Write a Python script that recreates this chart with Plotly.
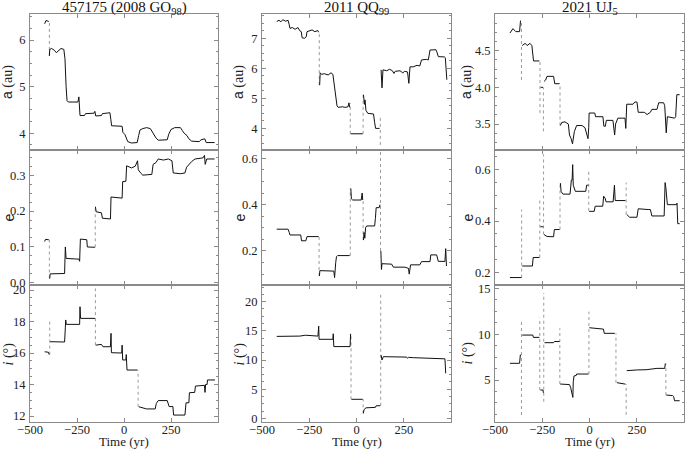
import plotly.graph_objects as go

# ---------------- data (time in yr) ----------------
titles = ["457175 (2008 GO<sub>98</sub>)", "2011 QQ<sub>99</sub>", "2021 UJ<sub>5</sub>"]
x_ticks = [-500, -250, 0, 250]

# column 1 : 457175 (2008 GO98)
a1_segs = [
    [(-422, 6.35), (-415, 6.42), (-400, 6.40)],
    [(-397, 5.66), (-395, 5.80), (-385, 5.82), (-370, 5.78), (-360, 5.73), (-350, 5.77), (-335, 5.82),
     (-320, 5.80), (-314, 5.60), (-308, 5.00), (-303, 4.70), (-296, 4.67), (-260, 4.68), (-245, 4.67),
     (-240, 4.78), (-236, 4.60), (-234, 4.38), (-210, 4.38), (-205, 4.42), (-160, 4.43), (-155, 4.47),
     (-150, 4.37), (-120, 4.38), (-115, 4.42), (-75, 4.44), (-70, 4.30), (-66, 4.16), (-10, 4.15),
     (-6, 4.02), (5, 3.97), (12, 3.90), (20, 3.82), (40, 3.79), (70, 3.80), (78, 3.95), (85, 4.07),
     (100, 4.10), (120, 4.12), (140, 4.10), (150, 4.03), (160, 3.98), (170, 3.90), (182, 3.85),
     (230, 3.86), (238, 3.98), (250, 4.08), (270, 4.12), (300, 4.12), (310, 4.06), (320, 4.00),
     (335, 3.95), (345, 3.88), (360, 3.83), (400, 3.82), (410, 3.86), (430, 3.88), (437, 3.80), (482, 3.80)],
]
a1_jumps = [(-397, 5.66, 6.40)]

e1_segs = [
    [(-422, 0.115), (-418, 0.121), (-400, 0.120)],
    [(-395, 0.012), (-393, 0.025), (-316, 0.026), (-312, 0.100), (-308, 0.068), (-240, 0.066),
     (-236, 0.060), (-234, 0.118), (-232, 0.122), (-198, 0.120), (-195, 0.100), (-155, 0.099)],
    [(-152, 0.212), (-148, 0.198), (-120, 0.195), (-115, 0.180), (-72, 0.178), (-69, 0.239),
     (-10, 0.236), (-7, 0.282), (10, 0.283), (14, 0.326), (40, 0.320), (60, 0.325), (72, 0.340),
     (76, 0.315), (90, 0.305), (100, 0.300), (148, 0.302), (155, 0.330), (170, 0.335), (182, 0.345),
     (210, 0.342), (236, 0.345), (255, 0.340), (262, 0.306), (300, 0.304), (324, 0.306), (333, 0.322),
     (345, 0.330), (360, 0.338), (378, 0.345), (420, 0.348), (428, 0.355), (432, 0.330), (440, 0.345),
     (482, 0.345)],
]
e1_jumps = [(-397, 0.012, 0.120), (-153, 0.099, 0.212)]

i1_segs = [
    [(-422, 16.08), (-402, 16.05), (-398, 15.90)],
    [(-393, 16.72), (-316, 16.70), (-312, 17.60), (-310, 18.10), (-307, 17.82), (-236, 17.82),
     (-234, 18.94), (-231, 18.20), (-154, 18.20)],
    [(-150, 16.50), (-120, 16.55), (-112, 16.40), (-72, 16.40), (-69, 17.25), (-67, 16.02),
     (-12, 16.00), (-10, 16.50), (-7, 15.56), (10, 15.56), (12, 15.90), (16, 14.92), (72, 14.92)],
    [(78, 12.59), (120, 12.45), (166, 12.45), (172, 12.80), (182, 12.98), (230, 12.98), (240, 12.60),
     (260, 12.60), (264, 12.06), (324, 12.06), (330, 12.84), (345, 12.84), (348, 13.48), (376, 13.50),
     (380, 13.90), (428, 13.95), (431, 13.50), (434, 14.00), (442, 14.00), (444, 14.29), (484, 14.29)],
]
i1_jumps = [(-395, 15.90, 18.10), (-152, 16.50, 20.10), (75, 12.59, 14.92)]

# column 2 : 2011 QQ99
a2_segs = [
    [(-422, 7.56), (-410, 7.60), (-400, 7.55), (-390, 7.62), (-375, 7.57), (-362, 7.60), (-356, 7.45),
     (-352, 7.33), (-340, 7.36), (-325, 7.30), (-310, 7.36), (-300, 7.25), (-292, 7.22), (-288, 7.02),
     (-275, 7.00), (-266, 7.05), (-262, 7.22), (-250, 7.25), (-235, 7.28), (-220, 7.22), (-205, 7.26),
     (-200, 7.20)],
    [(-195, 5.44), (-192, 5.85), (-185, 5.80), (-170, 5.82), (-150, 5.78), (-135, 5.85), (-125, 5.80),
     (-118, 5.40), (-110, 5.00), (-103, 4.75), (-97, 4.70), (-75, 4.72), (-60, 4.70), (-45, 4.72),
     (-40, 4.85), (-36, 4.70)],
    [(-31, 3.82), (33, 3.82)],
    [(37, 5.12), (40, 5.00), (42, 4.80), (45, 4.95), (50, 4.60), (60, 4.50), (90, 4.48), (96, 4.20),
     (101, 4.00), (122, 4.00)],
    [(130, 5.95), (135, 5.35), (140, 5.95), (160, 5.92), (175, 5.97), (190, 5.92), (198, 5.83),
     (205, 5.90), (230, 5.92), (245, 5.85), (255, 5.90), (270, 5.88), (277, 5.50), (283, 6.05),
     (300, 6.05), (320, 6.10), (335, 6.08), (344, 6.28), (370, 6.30), (380, 6.28), (389, 6.61),
     (420, 6.62), (425, 6.55), (433, 6.39), (465, 6.38), (470, 6.35), (478, 5.62)],
]
a2_jumps = [(-197, 5.44, 7.20), (-33, 3.82, 4.85), (35, 3.82, 5.12), (126, 3.45, 4.45)]

e2_segs = [
    [(-422, 0.294), (-362, 0.294), (-356, 0.280), (-352, 0.269), (-295, 0.269), (-291, 0.244),
     (-268, 0.244), (-262, 0.262), (-200, 0.262)],
    [(-196, 0.092), (-194, 0.115), (-120, 0.113), (-116, 0.085), (-110, 0.150), (-106, 0.175),
     (-100, 0.180), (-36, 0.180)],
    [(-30, 0.470), (-27, 0.425), (-20, 0.420), (25, 0.420), (30, 0.450), (33, 0.420)],
    [(37, 0.247), (40, 0.280), (44, 0.255), (48, 0.300), (54, 0.308), (96, 0.308), (100, 0.340),
     (104, 0.387), (120, 0.387), (124, 0.400)],
    [(129, 0.200), (132, 0.120), (135, 0.145), (186, 0.143), (195, 0.130), (256, 0.130), (275, 0.125),
     (279, 0.100), (286, 0.140), (335, 0.140), (344, 0.154), (389, 0.154), (393, 0.183), (424, 0.183),
     (433, 0.155), (468, 0.155), (472, 0.210), (476, 0.135)],
]
e2_jumps = [(-198, 0.092, 0.262), (-33, 0.180, 0.470), (35, 0.247, 0.420), (127, 0.200, 0.640)]

i2_segs = [
    [(-422, 14.05), (-300, 14.10), (-270, 14.25), (-240, 14.15), (-204, 14.10), (-200, 15.80),
     (-198, 13.55), (-125, 13.55), (-123, 14.50), (-120, 12.30), (-34, 12.30), (-31, 14.50)],
    [(-27, 3.26), (33, 3.26)],
    [(36, 0.85), (40, 1.50), (50, 1.80), (100, 1.88), (104, 2.16), (126, 2.16)],
    [(130, 10.85), (135, 10.00), (142, 10.57), (265, 10.50), (270, 10.30), (275, 10.45), (300, 10.40),
     (400, 10.30), (468, 10.20), (472, 7.72)],
]
i2_jumps = [(-29, 3.26, 14.50), (35, 0.85, 3.26), (128, 2.16, 21.50)]

# column 3 : 2021 UJ5
a3_segs = [
    [(-421, 4.74), (-405, 4.80), (-390, 4.76), (-370, 4.76), (-365, 4.91)],
    [(-356, 4.57), (-340, 4.60), (-330, 4.57), (-315, 4.60), (-305, 4.57), (-300, 4.45), (-296, 4.36),
     (-265, 4.36)],
    [(-258, 4.00), (-246, 4.00)],
    [(-241, 4.08), (-232, 4.10), (-225, 4.15), (-190, 4.15), (-184, 4.05), (-158, 4.05)],
    [(-154, 3.48), (-147, 3.52), (-130, 3.53), (-112, 3.50), (-106, 3.35), (-97, 3.30), (-90, 3.23),
     (-80, 3.40), (-68, 3.48), (-40, 3.48), (-24, 3.45), (-15, 3.35), (-8, 3.30), (-4, 3.45),
     (-2, 3.65), (28, 3.65), (32, 3.60), (71, 3.60), (76, 3.47), (84, 3.47), (89, 3.55), (124, 3.55),
     (128, 3.40), (133, 3.35), (138, 3.50), (150, 3.58), (188, 3.58), (192, 3.44), (197, 3.77),
     (230, 3.77), (240, 3.80), (251, 3.80), (258, 3.66), (290, 3.66), (305, 3.63), (322, 3.66),
     (330, 3.70), (357, 3.70), (366, 3.79), (392, 3.79), (398, 3.75), (404, 3.50), (406, 3.38),
     (412, 3.60), (450, 3.58), (456, 3.60), (462, 3.90), (477, 3.90)],
]
a3_jumps = [(-360, 4.10, 4.91), (-262, 3.65, 4.36), (-244, 3.40, 4.00), (-156, 3.48, 4.05)]

e3_segs = [
    [(-421, 0.180), (-360, 0.180)],
    [(-356, 0.225), (-302, 0.225), (-298, 0.258), (-265, 0.258)],
    [(-260, 0.378), (-245, 0.378)],
    [(-241, 0.348), (-225, 0.340), (-190, 0.339), (-186, 0.367), (-158, 0.367)],
    [(-154, 0.548), (-150, 0.515), (-140, 0.505), (-103, 0.505), (-96, 0.560), (-92, 0.560),
     (-89, 0.620), (-86, 0.540), (-75, 0.516), (-20, 0.516), (-15, 0.540), (-6, 0.540)],
    [(-2, 0.438), (25, 0.438), (30, 0.458), (70, 0.458), (75, 0.497), (82, 0.490), (88, 0.475),
     (125, 0.475), (132, 0.540), (136, 0.480), (190, 0.480)],
    [(197, 0.426), (212, 0.415), (251, 0.415), (258, 0.448), (310, 0.445), (322, 0.445), (330, 0.420),
     (395, 0.420), (400, 0.550), (404, 0.530), (412, 0.464), (460, 0.464), (463, 0.470), (467, 0.390),
     (477, 0.390)],
]
e3_jumps = [(-359, 0.180, 0.445), (-263, 0.258, 0.480), (-243, 0.348, 0.660), (-156, 0.367, 0.548),
            (-4, 0.440, 0.600), (194, 0.426, 0.550)]

i3_segs = [
    [(-421, 6.82), (-370, 6.82), (-366, 7.73), (-362, 7.73)],
    [(-356, 9.90), (-300, 9.90), (-297, 9.65), (-265, 9.65)],
    [(-260, 3.91), (-246, 3.91), (-244, 3.60)],
    [(-238, 9.07), (-190, 9.07), (-186, 9.20), (-158, 9.20)],
    [(-155, 4.56), (-106, 4.50), (-100, 4.20), (-92, 3.50), (-88, 3.10), (-86, 4.80), (-82, 5.44),
     (-70, 5.50), (-68, 5.65), (-5, 5.65)],
    [(-1, 10.70), (40, 10.60), (74, 10.55), (78, 10.09), (134, 10.09)],
    [(145, 4.71), (170, 4.60), (190, 4.55)],
    [(197, 6.02), (250, 6.02), (255, 6.10), (300, 6.12), (320, 6.20), (357, 6.27), (398, 6.27), (401, 6.80)],
    [(406, 3.36), (440, 3.30), (445, 3.20), (450, 2.74), (477, 2.74)],
]
i3_jumps = [(-360, 1.18, 11.54), (-263, 3.91, 11.80), (-242, 2.63, 14.50), (-157, 4.56, 10.64),
            (-3, 5.65, 12.45), (140, 4.71, 10.09), (194, 1.20, 4.55), (404, 3.36, 6.80)]

panels = [
    [(a1_segs, a1_jumps), (a2_segs, a2_jumps), (a3_segs, a3_jumps)],
    [(e1_segs, e1_jumps), (e2_segs, e2_jumps), (e3_segs, e3_jumps)],
    [(i1_segs, i1_jumps), (i2_segs, i2_jumps), (i3_segs, i3_jumps)],
]
y_ranges = [
    [[3.64, 6.56], [3.28, 7.81], [3.146, 5.0]],
    [[-0.006, 0.37], [0.053, 0.636], [0.151, 0.677]],
    [[11.62, 20.32], [-0.63, 22.86], [0.42, 15.36]],
]
y_ticks = [
    [[4, 5, 6], [4, 5, 6, 7], [3.5, 4.0, 4.5]],
    [[0.0, 0.1, 0.2, 0.3], [0.2, 0.4, 0.6], [0.2, 0.4, 0.6]],
    [[12, 14, 16, 18, 20], [0, 5, 10, 15, 20], [5, 10, 15]],
]
y_minor = [[0.25, 0.25, 0.125], [0.025, 0.05, 0.05], [0.5, 1.25, 1.25]]
y_fmt = [[".0f", ".0f", ".1f"], [".1f", ".1f", ".1f"], [".0f", ".0f", ".0f"]]
y_titles = ["<span style='font-family:Liberation Sans'>a</span> (au)",
            "<span style='font-family:Liberation Sans'>e</span>",
            "<i>i</i> (°)"]

# ---------------- layout geometry ----------------
W, H = 685, 449
col_px = [(30, 218), (262, 451), (495, 684)]
row_px = [(14, 150), (150, 285), (285, 422)]
ytitle_x = [8, 239, 467]
SERIF = "Liberation Serif"
FRAME = "#8a8a8a"
TICKFONT = dict(family=SERIF, size=12.5, color="#222")

fig = go.Figure()
layout = dict(width=W, height=H, margin=dict(l=0, r=0, t=0, b=0, autoexpand=False),
              paper_bgcolor="white", plot_bgcolor="white", showlegend=False,
              font=dict(family=SERIF, size=13, color="#222"))
annotations = []

for r in range(3):
    for c in range(3):
        k = r * 3 + c + 1
        sfx = "" if k == 1 else str(k)
        segs, jumps = panels[r][c]
        xs, ys = [], []
        for seg in segs:
            for t, v in seg:
                xs.append(t)
                ys.append(v)
            xs.append(None)
            ys.append(None)
        jx, jy = [], []
        for t, lo, hi in jumps:
            jx += [t, t, None]
            jy += [lo, hi, None]
        fig.add_trace(go.Scatter(x=jx, y=jy, mode="lines", xaxis="x" + sfx, yaxis="y" + sfx,
                                 line=dict(color="#9a9a9a", width=1, dash="dot"), hoverinfo="skip"))
        fig.add_trace(go.Scatter(x=xs, y=ys, mode="lines", xaxis="x" + sfx, yaxis="y" + sfx,
                                 line=dict(color="#111", width=1), connectgaps=False))
        x0, x1 = col_px[c]
        y0, y1 = row_px[r]
        layout["xaxis" + sfx] = dict(
            domain=[x0 / W, x1 / W], anchor="y" + sfx, range=[-500, 500], automargin=False,
            tickvals=x_ticks, showticklabels=(r == 2), ticks="inside", ticklen=4,
            tickcolor=FRAME, showline=True, linecolor=FRAME, linewidth=1, mirror="allticks",
            showgrid=False, zeroline=False, tickfont=TICKFONT, ticklabelstandoff=-4,
        )
        layout["yaxis" + sfx] = dict(
            domain=[1 - y1 / H, 1 - y0 / H], anchor="x" + sfx, range=y_ranges[r][c], automargin=False,
            tickvals=y_ticks[r][c], tickformat=y_fmt[r][c], ticks="inside", ticklen=4,
            tickcolor=FRAME, showline=True, linecolor=FRAME, linewidth=1, mirror="allticks",
            showgrid=False, zeroline=False, tickfont=TICKFONT, ticklabelstandoff=1,
            minor=dict(dtick=y_minor[r][c], ticks="inside", ticklen=2, tickcolor=FRAME),
        )
        # y-axis titles
        annotations.append(dict(x=ytitle_x[c] / W, y=1 - (y0 + y1) / 2 / H, xref="paper", yref="paper",
                                text=y_titles[r], textangle=-90, showarrow=False,
                                font=dict(family=SERIF, size=14, color="#222"),
                                xanchor="center", yanchor="middle"))

for c in range(3):
    xc = (col_px[c][0] + col_px[c][1]) / 2 / W
    annotations.append(dict(x=xc, y=1 - 8 / H, xref="paper", yref="paper", text=titles[c],
                            showarrow=False, font=dict(family=SERIF, size=15, color="#111"),
                            xanchor="center", yanchor="middle"))
    annotations.append(dict(x=xc, y=1 - 441.5 / H, xref="paper", yref="paper", text="Time (yr)",
                            showarrow=False, font=dict(family=SERIF, size=13, color="#222"),
                            xanchor="center", yanchor="middle", borderpad=0))

layout["annotations"] = annotations
fig.update_layout(**layout)
fig.write_html("out.html", config={"displayModeBar": False},
               post_script="document.body.style.margin='0';document.body.style.padding='0';")
